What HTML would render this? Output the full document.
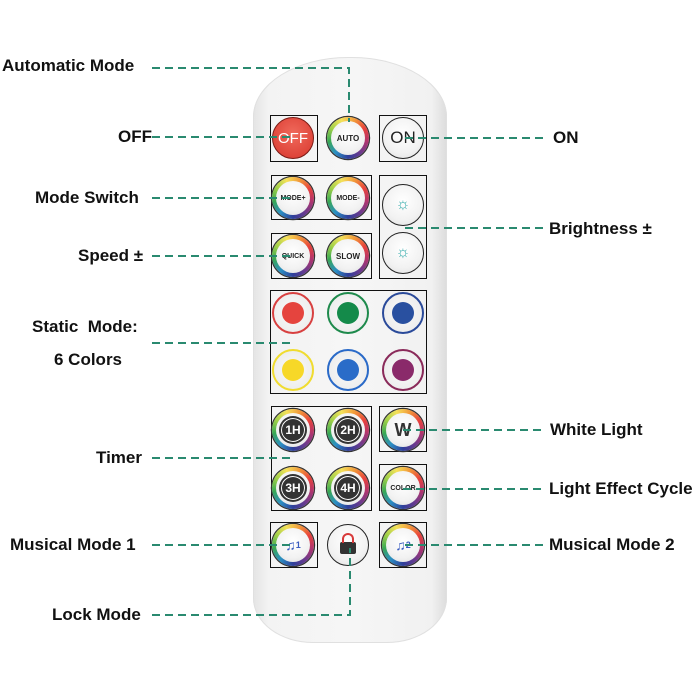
<!DOCTYPE html>
<html><head><meta charset="utf-8"><style>
html,body{margin:0;padding:0;background:#fff;width:700px;height:700px;overflow:hidden;position:relative;font-family:"Liberation Sans",sans-serif}
.lbl{position:absolute;font-weight:bold;font-size:17px;color:#111;white-space:nowrap;line-height:20px}
.remote{position:absolute;left:253px;top:57px;width:194px;height:586px;background:linear-gradient(90deg,#e4e4e4 0%,#f3f3f3 8%,#f6f6f6 50%,#f1f1f1 92%,#dcdcdc 100%);border-radius:95px 95px 60px 60px / 60px 60px 45px 45px;box-shadow:inset 0 0 0 1px #e0e0e0}
.box{position:absolute;border:1.6px solid #111;box-sizing:border-box}
.btn{position:absolute;width:42px;height:42px;border-radius:50%;margin:-21px 0 0 -21px;background:conic-gradient(from -20deg,#f5e25a,#f29a3a,#e8423c,#b0356f,#6a3a8e,#2f3f9a,#2b8fc4,#38a853,#9fd048,#f5e25a);box-shadow:0 0 0 1.2px #333}
.btn .in{position:absolute;left:4px;top:4px;width:34px;height:34px;border-radius:50%;background:radial-gradient(circle at 50% 40%,#fff 0%,#f2f2f2 60%,#dcdcdc 100%);display:flex;align-items:center;justify-content:center;font-weight:bold;color:#222;font-size:8px}
.plain{position:absolute;width:42px;height:42px;border-radius:50%;margin:-21px 0 0 -21px;background:radial-gradient(circle at 50% 40%,#fff 0%,#f2f2f2 60%,#ddd 100%);border:1.5px solid #222;box-sizing:border-box;display:flex;align-items:center;justify-content:center;font-weight:bold}
.col{position:absolute;width:42px;height:42px;border-radius:50%;margin:-21px 0 0 -21px;border:2px solid;box-sizing:border-box;background:radial-gradient(circle,#fafafa 0%,#eee 70%,#e0e0e0 100%)}
.col i{position:absolute;left:8px;top:8px;width:22px;height:22px;border-radius:50%}
.tm{background:#333;color:#fff;border-radius:50%;width:24px;height:24px;display:flex;align-items:center;justify-content:center;font-size:12px;border:2px dashed #333;box-shadow:0 0 0 1px #fff inset}
</style></head><body>
<div class="remote"></div>

<div class="box" style="left:270px;top:115px;width:48px;height:47px"></div>
<div class="box" style="left:379px;top:115px;width:48px;height:47px"></div>
<div class="box" style="left:271px;top:175px;width:101px;height:45px"></div>
<div class="box" style="left:379px;top:175px;width:48px;height:104px"></div>
<div class="box" style="left:271px;top:233px;width:101px;height:46px"></div>
<div class="box" style="left:270px;top:290px;width:157px;height:104px"></div>
<div class="box" style="left:271px;top:406px;width:101px;height:105px"></div>
<div class="box" style="left:379px;top:406px;width:48px;height:46px"></div>
<div class="box" style="left:379px;top:464px;width:48px;height:47px"></div>
<div class="box" style="left:270px;top:522px;width:48px;height:46px"></div>
<div class="box" style="left:379px;top:522px;width:48px;height:46px"></div>

<div class="plain" style="left:293px;top:138px;background:radial-gradient(circle at 50% 40%,#f06a5c,#d8362c);border-color:#7a1a14;color:#fff;font-size:15px;font-weight:normal">OFF</div>
<div class="btn" style="left:348px;top:138px"><div class="in">AUTO</div></div>
<div class="plain" style="left:403px;top:138px;font-size:17px;font-weight:normal;color:#222">ON</div>
<div class="btn" style="left:293px;top:198px"><div class="in" style="font-size:7px">MODE+</div></div>
<div class="btn" style="left:348px;top:198px"><div class="in" style="font-size:7px">MODE-</div></div>
<div class="btn" style="left:293px;top:256px"><div class="in" style="font-size:7px">QUICK</div></div>
<div class="btn" style="left:348px;top:256px"><div class="in">SLOW</div></div>
<div class="plain" style="left:403px;top:205px;color:#3aa;font-size:16px;font-weight:normal">☼</div>
<div class="plain" style="left:403px;top:253px;color:#3aa;font-size:16px;font-weight:normal">☼</div>

<div class="col" style="left:293px;top:313px;border-color:#d84040"><i style="background:#e5443e"></i></div>
<div class="col" style="left:348px;top:313px;border-color:#1e8a4c"><i style="background:#148a4a"></i></div>
<div class="col" style="left:403px;top:313px;border-color:#2a4a9a"><i style="background:#2950a0"></i></div>
<div class="col" style="left:293px;top:370px;border-color:#f0dc30"><i style="background:#f7d828"></i></div>
<div class="col" style="left:348px;top:370px;border-color:#2a6ac8"><i style="background:#2a6cc8"></i></div>
<div class="col" style="left:403px;top:370px;border-color:#8a2a5a"><i style="background:#8a2a6a"></i></div>

<div class="btn" style="left:293px;top:430px"><div class="in"><div class="tm">1H</div></div></div>
<div class="btn" style="left:348px;top:430px"><div class="in"><div class="tm">2H</div></div></div>
<div class="btn" style="left:293px;top:488px"><div class="in"><div class="tm">3H</div></div></div>
<div class="btn" style="left:348px;top:488px"><div class="in"><div class="tm">4H</div></div></div>
<div class="btn" style="left:403px;top:430px"><div class="in" style="font-size:18px;color:#333">W</div></div>
<div class="btn" style="left:403px;top:488px"><div class="in" style="font-size:7px">COLOR</div></div>
<div class="btn" style="left:293px;top:545px"><div class="in" style="font-size:14px;color:#3a5cc0">♫<span style="font-size:9px">1</span></div></div>
<div class="plain" style="left:348px;top:545px;font-size:16px"><span style="display:block;width:16px;height:12px;background:#333;border-radius:2px;margin-top:6px;position:relative"><span style="position:absolute;left:2px;top:-9px;width:8px;height:8px;border:2px solid #d83a3a;border-bottom:none;border-radius:6px 6px 0 0"></span></span></div>
<div class="btn" style="left:403px;top:545px"><div class="in" style="font-size:14px;color:#3a5cc0">♫<span style="font-size:9px">2</span></div></div>

<svg width="700" height="700" style="position:absolute;left:0;top:0" fill="none" stroke="#2a8a70" stroke-width="2" stroke-dasharray="8,5">
<path d="M152 68 H349 V122"/>
<path d="M152 137 H290"/>
<path d="M405 138 H543"/>
<path d="M152 198 H290"/>
<path d="M405 228 H543"/>
<path d="M152 256 H290"/>
<path d="M152 343 H292"/>
<path d="M152 458 H293"/>
<path d="M403 430 H543"/>
<path d="M403 489 H543"/>
<path d="M152 545 H290"/>
<path d="M405 545 H543"/>
<path d="M152 615 H350 V548"/>
</svg>

<div class="lbl" style="left:2px;top:56px">Automatic Mode</div>
<div class="lbl" style="left:118px;top:127px">OFF</div>
<div class="lbl" style="left:553px;top:128px">ON</div>
<div class="lbl" style="left:35px;top:188px">Mode Switch</div>
<div class="lbl" style="left:549px;top:219px">Brightness ±</div>
<div class="lbl" style="left:78px;top:246px">Speed ±</div>
<div class="lbl" style="left:32px;top:317px">Static&nbsp; Mode:</div>
<div class="lbl" style="left:54px;top:350px">6 Colors</div>
<div class="lbl" style="left:96px;top:448px">Timer</div>
<div class="lbl" style="left:550px;top:420px">White Light</div>
<div class="lbl" style="left:549px;top:479px">Light Effect Cycle</div>
<div class="lbl" style="left:10px;top:535px">Musical Mode 1</div>
<div class="lbl" style="left:549px;top:535px">Musical Mode 2</div>
<div class="lbl" style="left:52px;top:605px">Lock Mode</div>
</body></html>
